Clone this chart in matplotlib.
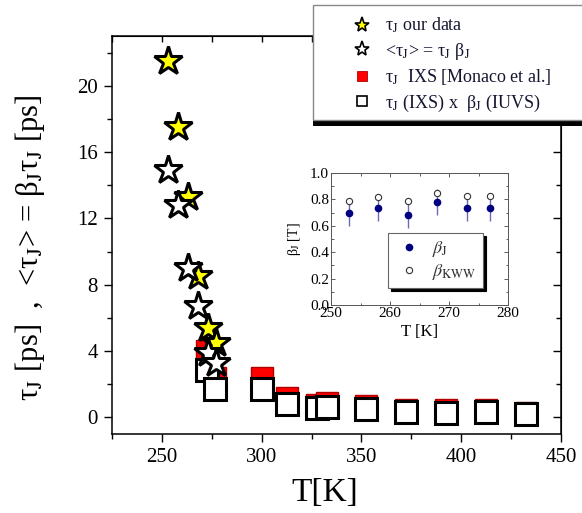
import matplotlib
matplotlib.use("Agg")
import matplotlib.pyplot as plt
from matplotlib.lines import Line2D
from matplotlib.patches import Rectangle
from matplotlib.ticker import MultipleLocator

plt.rcParams["font.family"] = ["Liberation Serif", "DejaVu Serif"]
plt.rcParams["mathtext.fontset"] = "stix"

# main panel data
T_j = [253, 258, 263, 268, 273, 277]
tau_j = [21.5, 17.5, 13.3, 8.5, 5.4, 4.5]
tau_mean = [14.9, 12.8, 9.0, 6.7, 3.9, 3.3]

T_ixs = [272.5, 276.5, 300, 312.5, 327.5, 332.5, 352.5, 372.5, 392.5, 412.5, 432.5]
tau_ixs = [4.0, 2.4, 2.38, 1.2, 0.73, 0.85, 0.71, 0.47, 0.43, 0.47, 0.28]
tau_ixs_beta = [2.85, 1.7, 1.72, 0.82, 0.58, 0.64, 0.49, 0.31, 0.28, 0.31, 0.19]

# inset data
beta_T = [253, 258, 263, 268, 273, 277]
beta_j = [0.70, 0.735, 0.685, 0.78, 0.735, 0.735]
beta_j_err = [0.1, 0.1, 0.1, 0.1, 0.1, 0.1]
beta_kww = [0.79, 0.82, 0.785, 0.85, 0.825, 0.825]

W, H = 582, 513
fig = plt.figure(figsize=(W / 100, H / 100), dpi=100)


def fx(px):
    return px / W


def fy(py):
    return 1 - py / H


SJ = r"$_\mathrm{J}$"

ax = fig.add_axes([fx(112), fy(434), fx(561) - fx(112), fy(36) - fy(434)])

ax.plot(T_ixs, tau_ixs, ls="none", marker="s", ms=16.5, mfc="#ff0000",
        mec="#b00000", mew=1.0, zorder=2)
ax.plot(T_ixs, tau_ixs_beta, ls="none", marker="s", ms=15.5, mfc="white",
        mec="black", mew=2.2, zorder=3)
ax.plot(T_j, tau_j, ls="none", marker="*", ms=21, mfc="#ffff00",
        mec="black", mew=2.2, zorder=4)
ax.plot(T_j, tau_mean, ls="none", marker="*", ms=21, mfc="white",
        mec="black", mew=2.2, zorder=5)

ax.set_xlim(225, 450)
ax.set_ylim(-1, 23)
ax.xaxis.set_major_locator(MultipleLocator(50))
ax.xaxis.set_minor_locator(MultipleLocator(25))
ax.yaxis.set_major_locator(MultipleLocator(4))
ax.yaxis.set_minor_locator(MultipleLocator(2))
ax.tick_params(which="major", direction="out", length=6, width=1.0,
               labelsize=15, pad=4)
ax.tick_params(which="minor", direction="out", length=3.5, width=1.0)
for s in ax.spines.values():
    s.set_linewidth(1.1)

top = ax.secondary_xaxis("top")
top.xaxis.set_major_locator(MultipleLocator(50))
top.xaxis.set_minor_locator(MultipleLocator(25))
top.tick_params(which="both", direction="in", length=4.5, width=1.0,
                labeltop=False)
right = ax.secondary_yaxis("right")
right.yaxis.set_major_locator(MultipleLocator(4))
right.yaxis.set_minor_locator(MultipleLocator(2))
right.tick_params(which="major", direction="in", length=6, width=1.0,
                  labelright=False)
right.tick_params(which="minor", direction="in", length=3.5, width=1.0)

fig.text(fx(325), fy(493), "T[K]", fontsize=24, ha="center", va="center")
fig.text(fx(30), fy(248),
         "τ" + SJ + " [ps]  ,  <τ" + SJ + "> = β" + SJ + "τ" + SJ + " [ps]",
         fontsize=22, rotation=90, ha="center", va="center")

# legend box with shadow, running off the right edge
fig.add_artist(Rectangle((fx(313), fy(126)), fx(620) - fx(313), fy(10) - fy(126),
                         transform=fig.transFigure, facecolor="black",
                         edgecolor="none", zorder=3))
fig.add_artist(Rectangle((fx(313), fy(120)), fx(620) - fx(313), fy(5) - fy(120),
                         transform=fig.transFigure, facecolor="white",
                         edgecolor="#888888", lw=1.0, zorder=3.5))

handles = [
    Line2D([], [], ls="none", marker="*", ms=11, mfc="#ffff00", mec="black", mew=1.2),
    Line2D([], [], ls="none", marker="*", ms=11, mfc="white", mec="black", mew=1.2),
    Line2D([], [], ls="none", marker="s", ms=7, mfc="#ff0000", mec="#b00000", mew=0.6),
    Line2D([], [], ls="none", marker="s", ms=7, mfc="white", mec="black", mew=1.2),
]
labels = [
    "τ" + SJ + " our data",
    "<τ" + SJ + "> = τ" + SJ + " β" + SJ,
    "τ" + SJ + "  IXS [Monaco et al.]",
    "τ" + SJ + " (IXS) x  β" + SJ + " (IUVS)",
]
leg = fig.legend(handles, labels, loc="upper left",
                 bbox_to_anchor=(fx(353), fy(16)), frameon=False,
                 fontsize=13, borderpad=0, borderaxespad=0,
                 handlelength=1.0, handletextpad=0.75, labelspacing=0.3)
leg.set_zorder(6)
for t in leg.get_texts():
    t.set_color("#151530")

# inset
ax_in = fig.add_axes([fx(331), fy(305), fx(508) - fx(331), fy(173) - fy(305)])
ax_in.errorbar(beta_T, beta_j, yerr=beta_j_err, fmt="none", ecolor="#6a6ab8",
               elinewidth=1.0, capsize=0, zorder=2)
ax_in.plot(beta_T, beta_kww, ls="none", marker="o", ms=4.5, mfc="white",
           mec="#333333", mew=0.8, zorder=3, label=r"$\beta_\mathrm{KWW}$")
ax_in.plot(beta_T, beta_j, ls="none", marker="o", ms=4.5, mfc="#000080",
           mec="#000080", zorder=4, label=r"$\beta_\mathrm{J}$")
ax_in.set_xlim(250, 280)
ax_in.set_ylim(0, 1)
ax_in.xaxis.set_major_locator(MultipleLocator(10))
ax_in.xaxis.set_minor_locator(MultipleLocator(5))
ax_in.yaxis.set_major_locator(MultipleLocator(0.2))
ax_in.yaxis.set_minor_locator(MultipleLocator(0.1))
ax_in.yaxis.set_major_formatter(lambda v, p: f"{v:.1f}")
ax_in.tick_params(which="both", direction="in", top=True, right=True,
                  labelsize=11, width=0.6, color="#444444", pad=1.5)
ax_in.tick_params(which="major", length=3)
ax_in.tick_params(which="minor", length=1.8)
for s in ax_in.spines.values():
    s.set_linewidth(0.7)
    s.set_color("#555555")
ax_in.set_xlabel("T [K]", fontsize=12, labelpad=3)
ax_in.set_ylabel("β" + SJ + " [T]", fontsize=10, labelpad=5)

ih, il = ax_in.get_legend_handles_labels()
leg_in = ax_in.legend([ih[1], ih[0]], [il[1], il[0]], loc="upper left",
                      bbox_to_anchor=(0.322, 0.545), borderaxespad=0,
                      fontsize=13, fancybox=False, edgecolor="#666666",
                      shadow={"color": "black", "alpha": 1.0},
                      borderpad=0.35, handlelength=1.6, handletextpad=0.5,
                      labelspacing=0.15, framealpha=1.0)
leg_in.get_frame().set_linewidth(0.8)
for t in leg_in.get_texts():
    t.set_color("#333333")

fig.savefig("out.png", dpi=100)
